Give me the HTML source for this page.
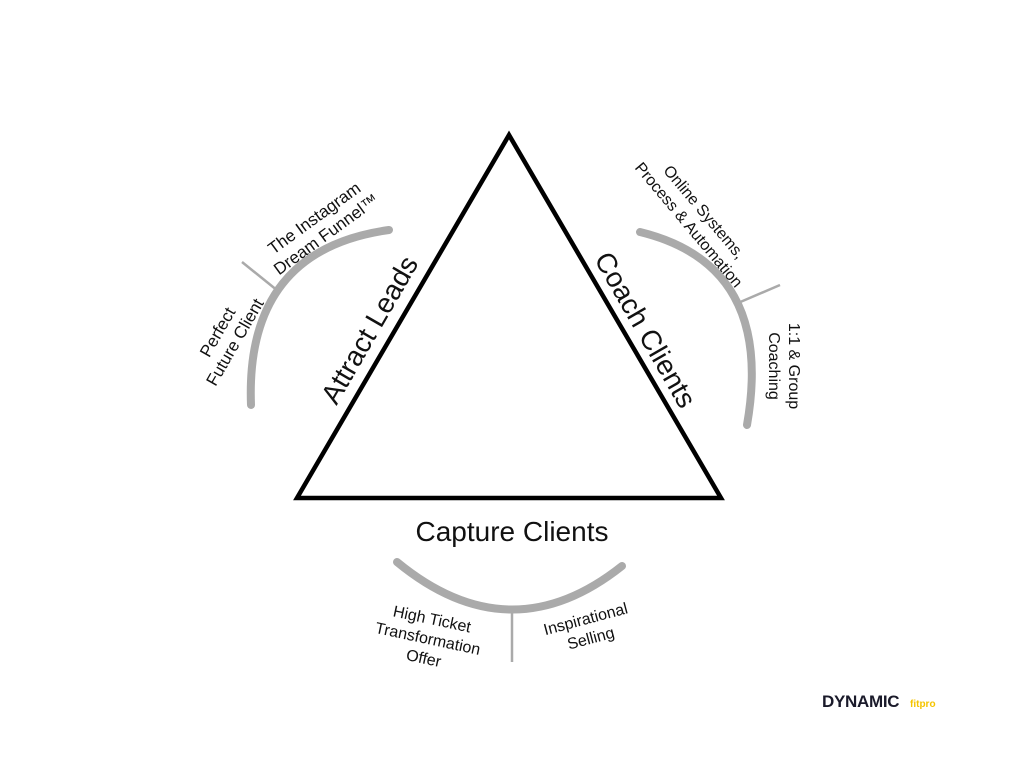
<!DOCTYPE html>
<html><head><style>
body{margin:0;background:#fff;width:1024px;height:768px;overflow:hidden}
svg text{font-family:"Liberation Sans",sans-serif;fill:#111}
</style></head><body>
<svg width="1024" height="768" viewBox="0 0 1024 768">
<polygon points="509,135 297,498 721,498" fill="none" stroke="#000" stroke-width="4.5" stroke-linejoin="miter"/>
<g fill="none" stroke="#aaa" stroke-width="8" stroke-linecap="round">
<path d="M251,405 Q245,250 389,230"/>
<path d="M640,232 Q775,265 747,425"/>
<path d="M397,562 Q510,655 622,566"/>
</g>
<g stroke="#aaa" stroke-width="2.5">
<line x1="242" y1="262" x2="278" y2="291"/>
<line x1="738" y1="303" x2="780" y2="285"/>
<line x1="512" y1="613" x2="512" y2="662"/>
</g>
<text x="370" y="339" font-size="28" text-anchor="middle" transform="rotate(-60 370 330)">Attract Leads</text>
<text x="645" y="339" font-size="28" text-anchor="middle" transform="rotate(60 645 330)">Coach Clients</text>
<text x="512" y="541" font-size="28" text-anchor="middle">Capture Clients</text>
<g font-size="16" text-anchor="middle">
<g transform="translate(320,226) rotate(-36)"><text x="0" y="-4" font-size="17">The Instagram</text><text x="0" y="16" font-size="17">Dream Funnel™</text></g>
<g transform="translate(226,337) rotate(-60)"><text x="0" y="-4" font-size="17">Perfect</text><text x="0" y="16" font-size="17">Future Client</text></g>
<g transform="translate(697,218) rotate(50)"><text x="0" y="-4">Online Systems,</text><text x="0" y="16">Process &amp; Automation</text></g>
<g transform="translate(785,366) rotate(90)"><text x="0" y="-4">1:1 &amp; Group</text><text x="0" y="16">Coaching</text></g>
<g transform="translate(428,638) rotate(12)"><text x="0" y="-14">High Ticket</text><text x="0" y="6">Transformation</text><text x="0" y="26">Offer</text></g>
<g transform="translate(588,628) rotate(-15)"><text x="0" y="-4">Inspirational</text><text x="0" y="16">Selling</text></g>
</g>
<text x="822" y="707" font-size="17" font-weight="bold" style="fill:#1a1a2a;letter-spacing:-0.3px">DYNAMIC</text>
<text x="910" y="707" font-size="10" font-weight="bold" style="fill:#f5c400">fitpro</text>
</svg>
</body></html>
